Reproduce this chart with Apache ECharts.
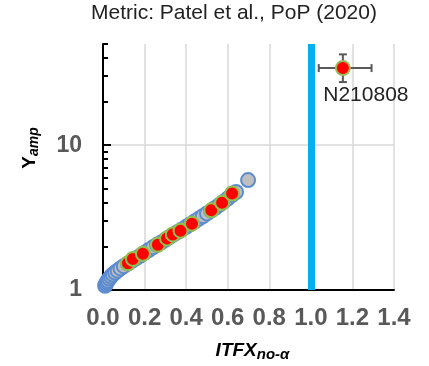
<!DOCTYPE html>
<html><head><meta charset="utf-8">
<script src="https://cdn.jsdelivr.net/npm/echarts@6/dist/echarts.min.js"></script>
<style>html,body{margin:0;padding:0;background:#fff}#c{width:429px;height:366px}</style>
</head><body><div id="c"></div>
<script>
const FONT = '"Liberation Sans", Arial, sans-serif';
const titleText = 'Metric: Patel et al., PoP (2020)';
const yLabelValues = [1, 10];
const yMinorTicks = [2, 3, 4, 5, 6, 7, 8, 9, 20, 30, 40, 50];
const thresholdX = [1.0];

const grayX = [0.010, 0.014, 0.018, 0.023, 0.030, 0.038, 0.047, 0.058, 0.070, 0.084, 0.10, 0.12, 0.14, 0.16, 0.18, 0.20, 0.22, 0.24, 0.26, 0.28, 0.30, 0.32, 0.34, 0.36, 0.38, 0.40, 0.42, 0.44, 0.46, 0.48, 0.50, 0.52, 0.54, 0.56, 0.58, 0.60, 0.62, 0.64, 0.698];
const grayY = [1.07, 1.10, 1.13, 1.16, 1.20, 1.24, 1.28, 1.32, 1.36, 1.41, 1.46, 1.52, 1.59, 1.66, 1.73, 1.81, 1.89, 1.97, 2.05, 2.13, 2.22, 2.32, 2.42, 2.52, 2.62, 2.73, 2.85, 2.97, 3.10, 3.23, 3.38, 3.53, 3.69, 3.87, 4.07, 4.28, 4.52, 4.75, 5.74];

const redX = [0.120, 0.144, 0.192, 0.264, 0.308, 0.336, 0.373, 0.428, 0.521, 0.573, 0.621];
const redY = [1.53, 1.64, 1.78, 2.05, 2.27, 2.42, 2.57, 2.87, 3.55, 4.00, 4.64];

const errX = [1.154];
const errY = [34.1];
const errXLow = [1.038];
const errXHigh = [1.292];
const errYLow = [27.3];
const errYHigh = [42.4];
const errName = ['N210808'];

const zip = (a, b) => a.map((v, i) => [v, b[i]]);

const chart = echarts.init(document.getElementById('c'), null, {renderer: 'canvas'});
const axisBase = {type: 'log', logBase: 10, min: 1, max: 50, position: 'left'};
chart.setOption({
  animation: false,
  backgroundColor: '#fff',
  title: {
    text: titleText, left: 91, top: 3, padding: 0,
    textStyle: {fontFamily: FONT, fontSize: 21, fontWeight: 'normal', color: '#222'}
  },
  grid: {left: 103, right: 35, top: 44, bottom: 76, containLabel: false, outerBoundsMode: 'none'},
  xAxis: {
    type: 'value', min: 0, max: 1.4, interval: 0.2,
    axisLine: {show: true, onZero: false, lineStyle: {color: '#000', width: 2}},
    axisTick: {show: false},
    axisLabel: {formatter: v => v.toFixed(1), fontFamily: FONT, fontSize: 24, fontWeight: 'bold', color: '#595959', margin: 16},
    splitLine: {show: true, lineStyle: {color: '#d9d9d9', width: 1.5}},
    name: '{b|ITFX}{s|no-α}', nameLocation: 'middle', nameGap: 50,
    nameTextStyle: {
      padding: [0, 0, 0, 8],
      rich: {
        b: {fontFamily: FONT, fontSize: 19, fontWeight: 'bold', fontStyle: 'italic', color: '#000', lineHeight: 22},
        s: {fontFamily: FONT, fontSize: 15, fontWeight: 'bold', fontStyle: 'italic', color: '#000', verticalAlign: 'bottom', lineHeight: 22, padding: [7, 0, 0, 0]}
      }
    }
  },
  yAxis: [
    Object.assign({}, axisBase, {
      axisLine: {show: true, lineStyle: {color: '#000', width: 2}},
      axisTick: {show: true, inside: true, length: 8, lineStyle: {color: '#000', width: 2}, customValues: yLabelValues},
      axisLabel: {customValues: yLabelValues, fontFamily: FONT, fontSize: 23, fontWeight: 'bold', color: '#595959', margin: 21},
      splitLine: {show: true, lineStyle: {color: '#d9d9d9', width: 1.5}},
      name: '{b|Y}{s|amp}', nameLocation: 'middle', nameGap: 62,
      nameTextStyle: {
        padding: [0, 0, 0, 38],
        rich: {
          b: {fontFamily: FONT, fontSize: 19, fontWeight: 'bold', color: '#000', lineHeight: 22},
          s: {fontFamily: FONT, fontSize: 14, fontWeight: 'bold', fontStyle: 'italic', color: '#000', verticalAlign: 'bottom', lineHeight: 22, padding: [6, 0, 0, 0]}
        }
      }
    }),
    Object.assign({}, axisBase, {
      axisLine: {show: false},
      axisTick: {show: true, inside: true, length: 5, lineStyle: {color: '#000', width: 2}, customValues: yMinorTicks},
      axisLabel: {show: false},
      splitLine: {show: false}
    })
  ],
  series: [
    {
      type: 'scatter', data: zip(grayX, grayY), symbolSize: 14,
      itemStyle: {color: '#BFBFBF', borderColor: '#5B8BD0', borderWidth: 2, opacity: 1},
      markLine: {
        silent: true, symbol: 'none', label: {show: false},
        lineStyle: {color: '#00B0F0', width: 7, type: 'solid'},
        data: thresholdX.map(v => ({xAxis: v}))
      }
    },
    {
      type: 'scatter', data: zip(redX, redY), symbolSize: 14,
      itemStyle: {color: '#FF0000', borderColor: '#92C050', borderWidth: 2, opacity: 1}
    },
    {
      type: 'custom',
      data: errX.map((v, i) => [v, errY[i], errXLow[i], errXHigh[i], errYLow[i], errYHigh[i]]),
      encode: {x: 0, y: 1},
      renderItem: function (params, api) {
        const x = api.value(0), y = api.value(1);
        const pL = api.coord([api.value(2), y]), pR = api.coord([api.value(3), y]);
        const pB = api.coord([x, api.value(4)]), pT = api.coord([x, api.value(5)]);
        const cap = 4;
        const style = {stroke: '#595959', lineWidth: 2};
        const ln = (x1, y1, x2, y2) => ({type: 'line', shape: {x1, y1, x2, y2}, style});
        return {type: 'group', children: [
          ln(pL[0], pL[1], pR[0], pR[1]),
          ln(pL[0], pL[1] - cap, pL[0], pL[1] + cap),
          ln(pR[0], pR[1] - cap, pR[0], pR[1] + cap),
          ln(pB[0], pB[1], pT[0], pT[1]),
          ln(pB[0] - cap, pB[1], pB[0] + cap, pB[1]),
          ln(pT[0] - cap, pT[1], pT[0] + cap, pT[1])
        ]};
      }
    },
    {
      type: 'scatter', data: errX.map((v, i) => ({value: [v, errY[i]], name: errName[i]})), symbolSize: 14,
      itemStyle: {color: '#FF0000', borderColor: '#9BBB59', borderWidth: 2, opacity: 1},
      label: {show: true, position: 'bottom', formatter: p => p.name, distance: 9, offset: [23, 0],
        fontFamily: FONT, fontSize: 21, color: '#222'}
    }
  ]
});
</script></body></html>
